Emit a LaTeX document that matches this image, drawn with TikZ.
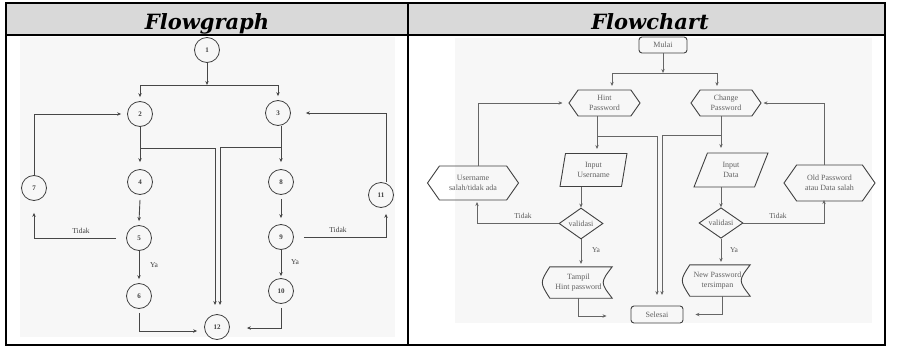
\documentclass[tikz,border=0pt]{standalone}
\usepackage{fontspec}
\setmainfont{Liberation Serif}
\newfontfamily\titlefont{DejaVu Serif}
\usetikzlibrary{arrows.meta,shapes.geometric,shapes.symbols,calc}

\begin{document}
\begin{tikzpicture}[x=1pt,y=-1pt,
  tip/.style={-{Stealth[length=4pt,width=3.4pt]}},
  fgnode/.style={circle, draw=black!75, line width=0.8pt, minimum size=25pt, inner sep=0pt,
    font=\fontsize{7}{8}\selectfont\bfseries, text=black!75},
  fgline/.style={draw=black!72, line width=0.9pt},
  fgarrow/.style={fgline, tip},
  lbl/.style={font=\fontsize{7.5}{9}\selectfont, text=black!75, inner sep=0pt},
  fcshape/.style={draw=black!75, line width=0.9pt},
  fctext/.style={inner sep=0pt, align=center, font=\fontsize{8}{9.5}\selectfont, text=black!62},
  fcline/.style={draw=black!60, line width=0.8pt},
  fcarrow/.style={fcline, tip},
  hexa/.style={fctext, fcshape, signal, signal to=east and west, signal pointer angle=110},
  inbox/.style={fctext, fcshape, trapezium, trapezium stretches=true},
  decision/.style={fctext, fcshape, diamond},
  terminal/.style={fctext, fcshape, rectangle, rounded corners=3pt},
  titletext/.style={font=\titlefont\bfseries\itshape\fontsize{21}{24}\selectfont, anchor=base}
]
\useasboundingbox (0,0) rectangle (900,356);

% ---------- table frame ----------
\fill[white] (0,0) rectangle (900,356);
\fill[black!3] (20,37) rectangle (395,337);
\fill[black!3] (455,38) rectangle (872,323);
\fill[gray!30] (6,3) rectangle (885,35);
\draw[line width=1.8pt] (6,3) rectangle (885,345);
\draw[line width=1.6pt] (6,35) -- (885,35);
\draw[line width=1.6pt] (408,3) -- (408,345);
\node[titletext] (tFG) at (207,30) {Flowgraph};
\node[titletext] (tFC) at (650,30) {Flowchart};

% ---------- flowgraph ----------
\node[fgnode] (n1)  at (207,50)  {1};
\node[fgnode] (n2)  at (140,114) {2};
\node[fgnode] (n3)  at (278,113) {3};
\node[fgnode] (n4)  at (140,182) {4};
\node[fgnode] (n5)  at (139,238) {5};
\node[fgnode] (n6)  at (139,296) {6};
\node[fgnode] (n7)  at (34,188)  {7};
\node[fgnode] (n8)  at (281,182) {8};
\node[fgnode] (n9)  at (281,237) {9};
\node[fgnode] (n10) at (281,291) {10};
\node[fgnode] (n11) at (381,195) {11};
\node[fgnode] (n12) at (217,327) {12};

\coordinate (busA) at (140,85);
\coordinate (busB) at (278,85);
\draw[fgarrow] (n1.south) -- (n1.south |- busA);
\draw[fgline] (busA) -- (busB);
\draw[fgarrow] (busA) -- ([yshift=4pt]n2.north);
\draw[fgarrow] (busB) -- ([yshift=4pt]n3.north);

\draw[fgarrow] (n7.north) |- ([xshift=-6pt]n2.west);
\draw[fgarrow] ([xshift=5pt]n11.north) |- ([xshift=15pt]n3.east);

\draw[fgarrow] (n2.south) -- ([yshift=7pt]n4.north);
\draw[fgarrow] (140,148) -- (215,148) -- (215,305);
\draw[fgarrow] ([xshift=3pt]n3.south) -- ([yshift=7pt]n8.north);
\draw[fgarrow] (281,147) -- (220,147) -- (220,305);

\draw[fgarrow] ([yshift=-5pt]n4.south) -- ([yshift=4pt]n5.north);
\draw[fgarrow] ([xshift=-10pt]n5.west) -| ([yshift=-12pt]n7.south);
\node[lbl] (t1) at (81,231) {Tidak};
\draw[fgarrow] (n5.south) -- ([yshift=4pt]n6.north);
\node[lbl] (y1) at (154,265) {Ya};
\draw[fgarrow] ([yshift=-4pt]n6.south) |- ([yshift=-4pt,xshift=-7pt]n12.west);

\draw[fgarrow] ([yshift=-4pt]n8.south) -- ([yshift=6pt]n9.north);
\draw[fgarrow] ([xshift=10pt]n9.east) -| ([xshift=5pt,yshift=-6pt]n11.south);
\node[lbl] (t2) at (338,230) {Tidak};
\draw[fgarrow] (n9.south) -- ([yshift=2pt]n10.north);
\node[lbl] (y2) at (295,262) {Ya};
\draw[fgarrow] ([yshift=-4pt]n10.south) |- ([yshift=-1pt,xshift=17pt]n12.east);

% ---------- flowchart ----------
\node[terminal, minimum width=48pt, minimum height=16pt] (mulai) at (663,45) {Mulai};
\node[hexa, minimum width=71pt, minimum height=26pt] (hint) at (604.5,103) {Hint\\Password};
\node[hexa, minimum width=70pt, minimum height=26pt] (chg) at (726,103) {Change\\Password};
\node[inbox, trapezium left angle=78, trapezium right angle=102,
      minimum width=67pt, minimum height=33pt] (inU) at (593.5,170) {Input\\Username};
\node[inbox, trapezium left angle=72, trapezium right angle=108,
      minimum width=74pt, minimum height=34pt] (inD) at (731,170) {Input\\Data};
\node[decision, minimum width=44pt, minimum height=31pt] (valL) at (581,223.5) {validasi};
\node[decision, minimum width=44pt, minimum height=30pt] (valR) at (721,223) {validasi};
\node[hexa, minimum width=91pt, minimum height=34pt] (userH) at (473,183) {Username\\salah/tidak ada};
\node[hexa, minimum width=91pt, minimum height=36pt] (oldH) at (829.5,183) {Old Password\\atau Data salah};
\node[fctext, minimum width=67pt, minimum height=31pt] (tampil) at (578.5,282.5) {Tampil\\Hint password};
\node[fctext, minimum width=65pt, minimum height=31pt] (newP) at (717.5,280.5) {New Password\\tersimpan};
\node[terminal, minimum width=52pt, minimum height=17pt] (selesai) at (657,314.5) {Selesai};

% stored-data outlines
\draw[fcshape] ([xshift=5pt]tampil.north west) -- (tampil.north east)
  .. controls ([xshift=-12pt]tampil.east) .. (tampil.south east)
  -- ([xshift=5pt]tampil.south west)
  .. controls ([xshift=-5pt]tampil.west) .. cycle;
\draw[fcshape] ([xshift=5pt]newP.north west) -- (newP.north east)
  .. controls ([xshift=-12pt]newP.east) .. (newP.south east)
  -- ([xshift=5pt]newP.south west)
  .. controls ([xshift=-5pt]newP.west) .. cycle;

% connectors
\coordinate (cbusA) at (612,73);
\coordinate (cbusB) at (717,73);
\draw[fcarrow] (mulai.south) -- (mulai.south |- cbusA);
\draw[fcline] (cbusA) -- (cbusB);
\draw[fcarrow] (cbusA) -- (612,86);
\draw[fcarrow] (cbusB) -- (717,86);

\draw[fcarrow] (hint.south -| 597,0) -- (597,149);
\draw[fcarrow] (597,136) -- (657,136) -- (657,295);
\draw[fcarrow] (chg.south -| 721,0) -- (721,148);
\draw[fcarrow] (721,135) -- (662,135) -- (662,295);

\draw[fcarrow] (inU.south -| valL.north) -- (valL.north);
\draw[fcarrow] (inD.south -| valR.north) -- (valR.north);

\draw[fcarrow] (valL.west) -| (477,202);
\node[lbl, text=black!65] (t3) at (523,216) {Tidak};
\draw[fcarrow] (478,166) |- ([xshift=-6pt]hint.west);

\draw[fcarrow] (valR.east) -| (824,200);
\node[lbl, text=black!65] (t4) at (778,216) {Tidak};
\draw[fcarrow] (824,165) |- ([xshift=2pt]chg.east);

\draw[fcarrow] (valL.south) -- (581,264);
\node[lbl, text=black!65] (y3) at (596,250) {Ya};
\draw[fcarrow] (valR.south) -- (721,262);
\node[lbl, text=black!65] (y4) at (734,250) {Ya};

\draw[fcarrow] (578,298) |- ([xshift=-24pt,yshift=-1.5pt]selesai.west);
\draw[fcarrow] (722,296) |- ([xshift=12pt]selesai.east);
\end{tikzpicture}
\end{document}
